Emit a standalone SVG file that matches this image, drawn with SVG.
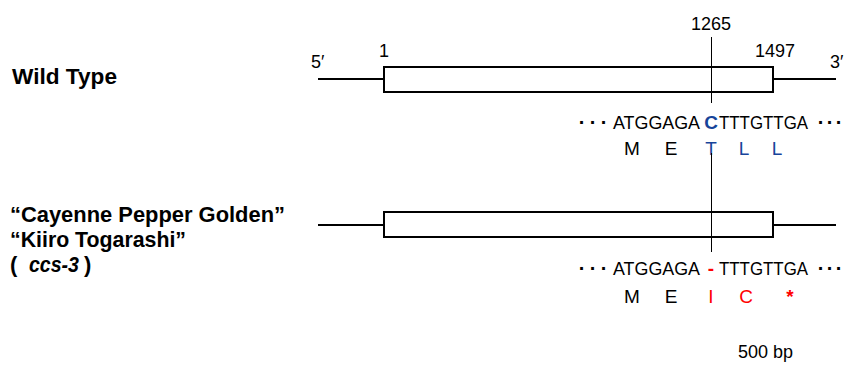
<svg xmlns="http://www.w3.org/2000/svg" width="845" height="366" viewBox="0 0 845 366">
<style>
.t{font-family:"Liberation Sans",Arial,sans-serif;font-size:19px;fill:#000}
.n{font-family:"Liberation Sans",Arial,sans-serif;font-size:18px;fill:#000}
.d{font-family:"Liberation Sans",Arial,sans-serif;font-size:20px;font-weight:bold;fill:#000}
.lab{font-family:"Liberation Sans",Arial,sans-serif;font-size:22px;font-weight:bold;fill:#000}
.ln{stroke:#000;stroke-width:2;fill:none}
.box{stroke:#000;stroke-width:2;fill:#fff}
.mk{stroke:#000;stroke-width:1}
.b{fill:#17449a}
.r{fill:#ff0000}
</style>
<rect width="845" height="366" fill="#fff"/>
<g id="wild-type">
<text class="lab" x="12" y="84" textLength="105" lengthAdjust="spacingAndGlyphs">Wild Type</text>
<line class="ln" x1="318" y1="79" x2="383" y2="79"/>
<line class="ln" x1="773" y1="79" x2="836" y2="79"/>
<rect class="box" x="384" y="67" width="389" height="25"/>
<text class="n" x="311" y="68">5′</text>
<text class="n" x="384" y="57" text-anchor="middle">1</text>
<text class="n" x="711" y="30" text-anchor="middle">1265</text>
<text class="n" x="775" y="57" text-anchor="middle">1497</text>
<text class="n" x="830" y="68">3′</text>
<text class="d" y="129" text-anchor="middle"><tspan x="582">·</tspan><tspan x="593">·</tspan><tspan x="604">·</tspan></text>
<text class="d" y="129" text-anchor="middle"><tspan x="821">·</tspan><tspan x="830">·</tspan><tspan x="839">·</tspan></text>
<text class="t" x="613" y="129" textLength="87" lengthAdjust="spacingAndGlyphs">ATGGAGA</text>
<text class="t b" x="711" y="129" text-anchor="middle" font-weight="bold">C</text>
<text class="t" x="719" y="129" textLength="89" lengthAdjust="spacingAndGlyphs">TTTGTTGA</text>
<text class="t" x="632" y="155" text-anchor="middle">M</text>
<text class="t" x="671" y="155" text-anchor="middle">E</text>
<text class="t b" x="711" y="155" text-anchor="middle">T</text>
<text class="t b" x="744" y="155" text-anchor="middle">L</text>
<text class="t b" x="777" y="155" text-anchor="middle">L</text>
</g>
<g id="mutant">
<text class="lab" x="10" y="222" textLength="275" lengthAdjust="spacingAndGlyphs">“Cayenne Pepper Golden”</text>
<text class="lab" x="10" y="247" textLength="176" lengthAdjust="spacingAndGlyphs">“Kiiro Togarashi”</text>
<text class="lab" x="10" y="272">(</text>
<text class="lab" x="29" y="272" font-style="italic" textLength="50" lengthAdjust="spacingAndGlyphs">ccs-3</text>
<text class="lab" x="84" y="272">)</text>
<line class="ln" x1="318" y1="225" x2="383" y2="225"/>
<line class="ln" x1="773" y1="225" x2="836" y2="225"/>
<rect class="box" x="384" y="212" width="389" height="25"/>
<text class="d" y="275" text-anchor="middle"><tspan x="582">·</tspan><tspan x="593">·</tspan><tspan x="604">·</tspan></text>
<text class="d" y="275" text-anchor="middle"><tspan x="821">·</tspan><tspan x="830">·</tspan><tspan x="839">·</tspan></text>
<text class="t" x="613" y="275" textLength="87" lengthAdjust="spacingAndGlyphs">ATGGAGA</text>
<text class="t r" x="711" y="275" text-anchor="middle" font-weight="bold">-</text>
<text class="t" x="719" y="275" textLength="89" lengthAdjust="spacingAndGlyphs">TTTGTTGA</text>
<text class="t" x="632" y="303" text-anchor="middle">M</text>
<text class="t" x="671" y="303" text-anchor="middle">E</text>
<text class="t r" x="711" y="303" text-anchor="middle">I</text>
<text class="t r" x="746" y="303" text-anchor="middle">C</text>
<text class="t r" x="790" y="303" text-anchor="middle" font-weight="bold">*</text>
</g>
<g id="connectors">
<line class="mk" x1="711.5" y1="37" x2="711.5" y2="103"/>
<line class="mk" x1="711.5" y1="153" x2="711.5" y2="252"/>
</g>
<text class="n" x="738" y="358">500 bp</text>
</svg>
